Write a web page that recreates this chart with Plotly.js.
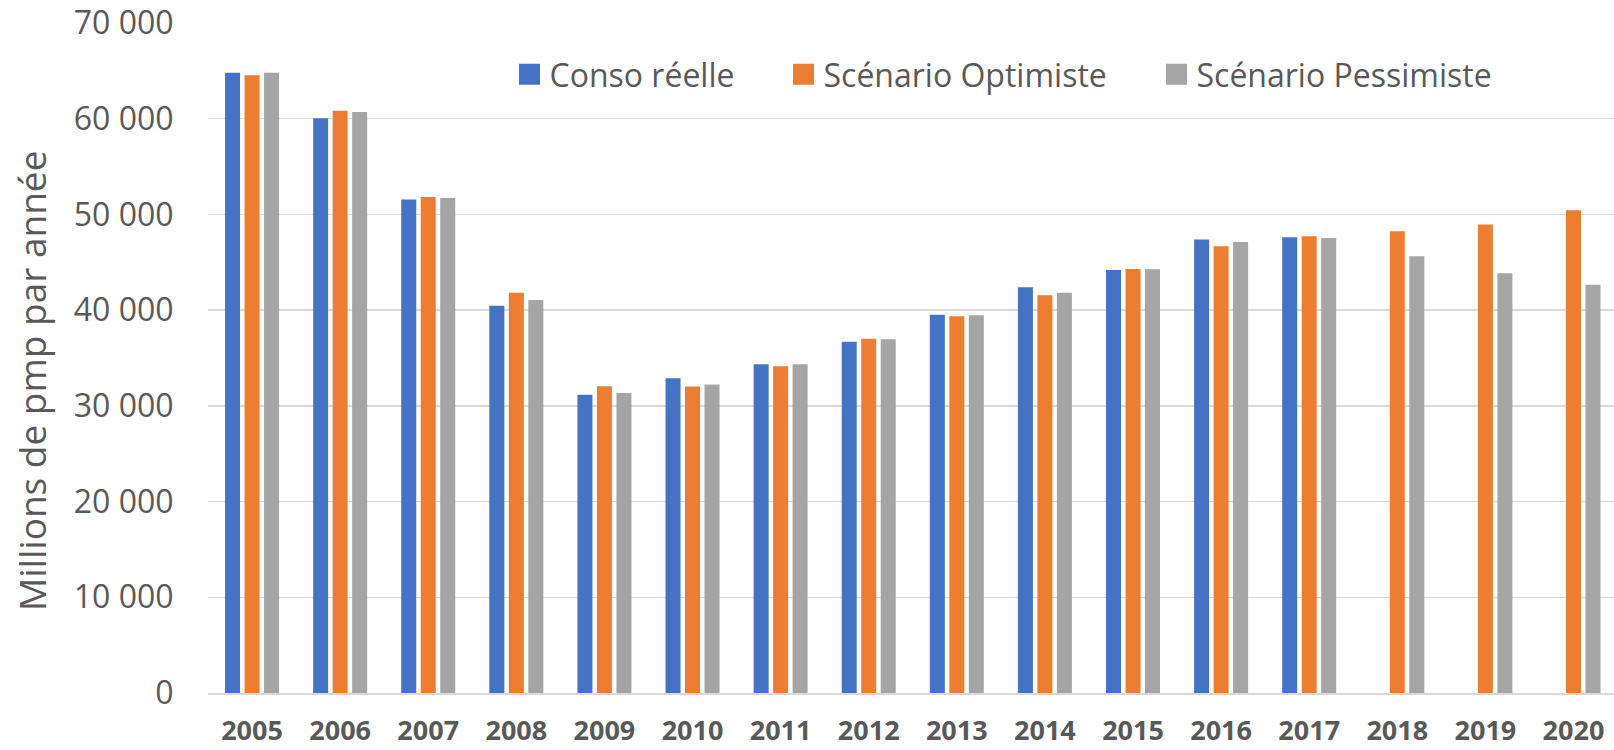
<!DOCTYPE html>
<html>
<head>
<meta charset="utf-8">
<script src="https://cdn.plot.ly/plotly-3.0.1.min.js"></script>
<style>html,body{margin:0;padding:0;background:#fff;}#chart{width:1614px;height:750px;}</style>
</head>
<body>
<div id="chart"></div>
<script>
const years = ['2005','2006','2007','2008','2009','2010','2011','2012','2013','2014','2015','2016','2017','2018','2019','2020'];
const consoReelle = [64800, 60050, 51550, 40470, 31170, 32880, 34350, 36710, 39530, 42390, 44200, 47370, 47620, null, null, null];
const scenarioOptimiste = [64540, 60820, 51830, 41830, 32050, 32010, 34140, 37020, 39360, 41560, 44310, 46680, 47720, 48250, 48940, 50440];
const scenarioPessimiste = [64800, 60710, 51720, 41070, 31350, 32220, 34350, 36960, 39470, 41830, 44270, 47130, 47550, 45630, 43860, 42640];
const seriesNames = ['Conso réelle', 'Scénario Optimiste', 'Scénario Pessimiste'];
const yTitle = 'Millions de pmp par année';

const colors = ['#4472C4', '#ED7D31', '#A5A5A5'];
const textColor = '#595959';
const seriesValues = [consoReelle, scenarioOptimiste, scenarioPessimiste];

const W = 1614, H = 750;
const plotL = 208, plotT = 23, plotB = 693;
const legendStarts = [509.5, 783.5, 1156.5];
const legendNames = ['legend', 'legend2', 'legend3'];

const data = [];
seriesValues.forEach((vals, i) => {
  data.push({
    type: 'bar', x: years, y: vals, name: seriesNames[i],
    marker: {color: colors[i], line: {width: 0}},
    showlegend: false, hoverinfo: 'x+y'
  });
});
seriesNames.forEach((nm, i) => {
  data.push({
    type: 'scatter', mode: 'markers', x: [null], y: [null], name: nm,
    legend: legendNames[i],
    marker: {symbol: 'square', size: 16, color: colors[i], line: {color: colors[i], width: 5}},
    showlegend: true, hoverinfo: 'skip'
  });
});

const layout = {
  width: W, height: H,
  paper_bgcolor: '#ffffff', plot_bgcolor: '#ffffff',
  separators: ', ',
  margin: {l: plotL, r: 0, t: plotT, b: H - plotB, pad: 0, autoexpand: false},
  font: {family: 'Open Sans, sans-serif', color: textColor},
  barmode: 'group', bargap: 0.336, bargroupgap: 0.23,
  showlegend: true,
  xaxis: {
    type: 'category', range: [-0.5, 15.46], automargin: false,
    showgrid: false, zeroline: false, showline: true, linecolor: '#D9D9D9', linewidth: 1.5,
    ticks: 'outside', ticklen: 13, tickcolor: 'rgba(0,0,0,0)',
    tickfont: {family: 'Open Sans, sans-serif', size: 27, color: textColor, weight: 'bold'},
    fixedrange: true
  },
  yaxis: {
    range: [0, 70000], dtick: 10000, tick0: 0, tickformat: ',d', automargin: false,
    showgrid: true, gridcolor: '#D9D9D9', gridwidth: 1.5,
    zeroline: false, showline: false,
    ticks: 'outside', ticklen: 27, tickcolor: 'rgba(0,0,0,0)',
    tickfont: {family: 'Open Sans, sans-serif', size: 32, color: textColor},
    fixedrange: true
  },
  annotations: [{
    text: yTitle, textangle: -90, showarrow: false,
    xref: 'paper', yref: 'paper',
    x: (31 - plotL) / (W - plotL), y: (plotB - 381) / (plotB - plotT),
    xanchor: 'center', yanchor: 'middle',
    font: {family: 'Open Sans, sans-serif', size: 37, color: textColor}
  }]
};
legendNames.forEach((ln, i) => {
  layout[ln] = {
    xref: 'container', yref: 'container',
    x: legendStarts[i] / W, y: 1 - 74.5 / H,
    xanchor: 'left', yanchor: 'middle',
    orientation: 'h', bgcolor: 'rgba(0,0,0,0)', borderwidth: 0,
    font: {family: 'Open Sans, sans-serif', size: 32, color: textColor}
  };
});

Plotly.newPlot('chart', data, layout, {displayModeBar: false, staticPlot: true});
</script>
</body>
</html>
